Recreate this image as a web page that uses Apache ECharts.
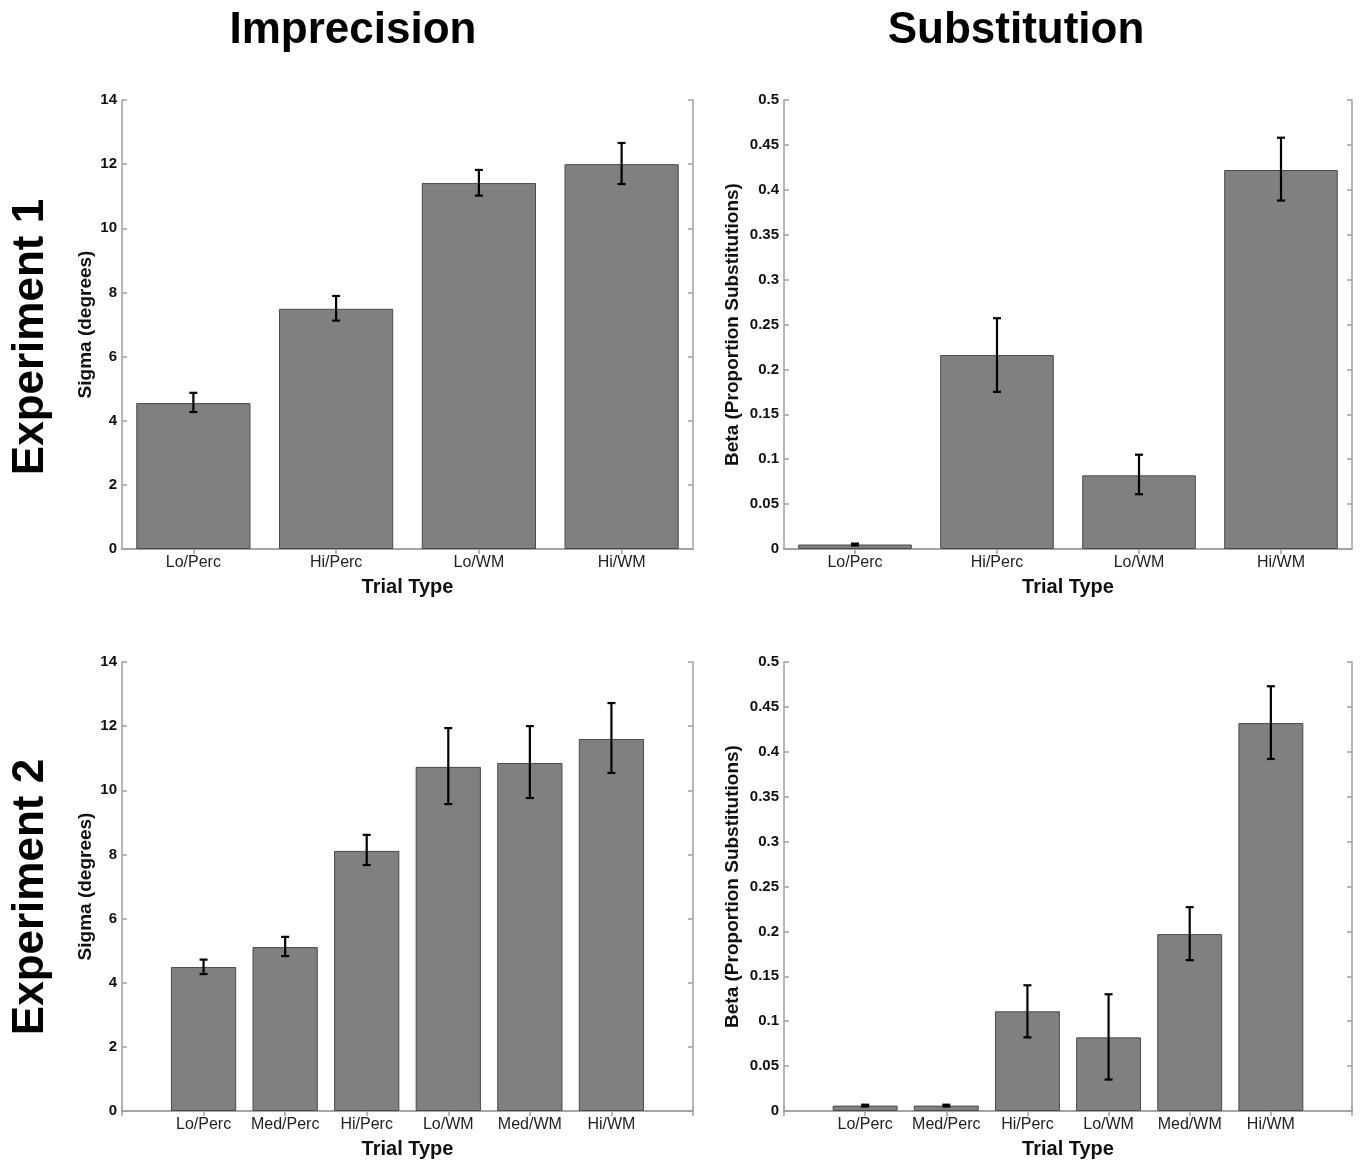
<!DOCTYPE html>
<html><head><meta charset="utf-8">
<script src="https://cdn.jsdelivr.net/npm/echarts@6/dist/echarts.min.js"></script>
<style>html,body{margin:0;padding:0;background:#fff}#c{width:1362px;height:1165px}</style>
</head><body><div id="c"></div>
<script>
// ---------- data ----------
const exp1Categories = ['Lo/Perc', 'Hi/Perc', 'Lo/WM', 'Hi/WM'];
const exp2Categories = ['Lo/Perc', 'Med/Perc', 'Hi/Perc', 'Lo/WM', 'Med/WM', 'Hi/WM'];

const exp1Sigma     = [4.55, 7.49, 11.41, 12.0];
const exp1SigmaLow  = [4.27, 7.12, 11.02, 11.38];
const exp1SigmaHigh = [4.87, 7.89, 11.82, 12.66];

const exp1Beta      = [0.005, 0.216, 0.082, 0.422];
const exp1BetaLow   = [0.004, 0.175, 0.061, 0.388];
const exp1BetaHigh  = [0.006, 0.257, 0.105, 0.458];

const exp2Sigma     = [4.49, 5.11, 8.11, 10.73, 10.85, 11.60];
const exp2SigmaLow  = [4.27, 4.83, 7.67, 9.57, 9.76, 10.54];
const exp2SigmaHigh = [4.72, 5.43, 8.61, 11.94, 12.00, 12.72];

const exp2Beta      = [0.006, 0.006, 0.111, 0.082, 0.197, 0.432];
const exp2BetaLow   = [0.005, 0.005, 0.082, 0.035, 0.168, 0.392];
const exp2BetaHigh  = [0.007, 0.007, 0.140, 0.130, 0.227, 0.473];

const sigmaTicks = {min: 0, max: 14, interval: 2};
const betaTicks  = {min: 0, max: 0.5, interval: 0.05};

// ---------- chart ----------
const FONT = "'Liberation Sans', Arial, Helvetica, sans-serif";
const AXIS_COLOR = '#a0a0a0';
const chart = echarts.init(document.getElementById('c'), null, {renderer: 'canvas'});

const grids = [
  {left: 122, top: 100, width: 571, height: 449},
  {left: 784, top: 100, width: 568, height: 449},
  {left: 122, top: 662, width: 571, height: 449},
  {left: 784, top: 662, width: 568, height: 449}
];

const panels = [
  {cats: exp1Categories, vals: exp1Sigma, lo: exp1SigmaLow, hi: exp1SigmaHigh, ticks: sigmaTicks, name: 'Sigma (degrees)', nameGap: 27, padded: false},
  {cats: exp1Categories, vals: exp1Beta, lo: exp1BetaLow, hi: exp1BetaHigh, ticks: betaTicks, name: 'Beta (Proportion Substitutions)', nameGap: 42, padded: false},
  {cats: exp2Categories, vals: exp2Sigma, lo: exp2SigmaLow, hi: exp2SigmaHigh, ticks: sigmaTicks, name: 'Sigma (degrees)', nameGap: 27, padded: true},
  {cats: exp2Categories, vals: exp2Beta, lo: exp2BetaLow, hi: exp2BetaHigh, ticks: betaTicks, name: 'Beta (Proportion Substitutions)', nameGap: 42, padded: true}
];

function errRender(params, api) {
  const x = api.value(0), lo = api.value(1), hi = api.value(2);
  const pHi = api.coord([x, hi]);
  const pLo = api.coord([x, lo]);
  const w = 4;
  const st = {stroke: '#000', lineWidth: 2.2};
  return {type: 'group', children: [
    {type: 'line', shape: {x1: pHi[0], y1: pHi[1], x2: pLo[0], y2: pLo[1]}, style: st},
    {type: 'line', shape: {x1: pHi[0] - w, y1: pHi[1], x2: pHi[0] + w, y2: pHi[1]}, style: st},
    {type: 'line', shape: {x1: pLo[0] - w, y1: pLo[1], x2: pLo[0] + w, y2: pLo[1]}, style: st}
  ]};
}

const xAxis = [], yAxis = [], series = [];
panels.forEach((p, g) => {
  const cats = p.padded ? [''].concat(p.cats, ['']) : p.cats.slice();
  const offset = p.padded ? 1 : 0;
  const baseX = {
    type: 'category', gridIndex: g, data: cats, boundaryGap: !p.padded,
    axisLine: {show: true, lineStyle: {color: AXIS_COLOR, width: 1.5}},
    axisTick: {show: true, inside: true, length: 5, alignWithLabel: true, lineStyle: {color: AXIS_COLOR, width: 1.5}},
    splitLine: {show: false}
  };
  xAxis.push(Object.assign({}, baseX, {
    position: 'bottom',
    axisLabel: {show: true, color: '#222', fontFamily: FONT, fontSize: 16, margin: 6, interval: 0},
    name: 'Trial Type', nameLocation: 'middle', nameGap: 28,
    nameTextStyle: {color: '#111', fontFamily: FONT, fontSize: 20, fontWeight: 'bold'}
  }));
  xAxis.push(Object.assign({}, baseX, {position: 'top', axisLabel: {show: false}}));
  const baseY = {
    type: 'value', gridIndex: g, min: p.ticks.min, max: p.ticks.max, interval: p.ticks.interval,
    axisLine: {show: true, lineStyle: {color: AXIS_COLOR, width: 1.5}},
    axisTick: {show: true, inside: true, length: 5, lineStyle: {color: AXIS_COLOR, width: 1.5}},
    splitLine: {show: false}
  };
  yAxis.push(Object.assign({}, baseY, {
    position: 'left',
    axisLabel: {show: true, color: '#111', fontFamily: FONT, fontSize: 15, fontWeight: 'bold', margin: 5},
    name: p.name, nameLocation: 'middle', nameGap: p.nameGap, nameRotate: 90,
    nameTextStyle: {color: '#111', fontFamily: FONT, fontSize: 19, fontWeight: 'bold'}
  }));
  yAxis.push(Object.assign({}, baseY, {position: 'right', axisLabel: {show: false}}));

  const barData = p.padded ? ['-'].concat(p.vals, ['-']) : p.vals.slice();
  series.push({
    type: 'bar', xAxisIndex: 2 * g, yAxisIndex: 2 * g, data: barData,
    barCategoryGap: '20%', silent: true,
    itemStyle: {color: '#808080', borderColor: '#4a4a4a', borderWidth: 1}
  });
  series.push({
    type: 'custom', xAxisIndex: 2 * g, yAxisIndex: 2 * g, renderItem: errRender,
    encode: {x: 0, y: [1, 2]}, z: 10, silent: true,
    data: p.vals.map((v, i) => [i + offset, p.lo[i], p.hi[i]])
  });
});

const titleStyle = {fill: '#000', font: "bold 44px " + FONT, textAlign: 'center', textVerticalAlign: 'middle'};
chart.setOption({
  animation: false,
  backgroundColor: '#fff',
  grid: grids.map(g => Object.assign({containLabel: false}, g)),
  xAxis: xAxis,
  yAxis: yAxis,
  series: series,
  graphic: [
    {type: 'text', x: 353, y: 31, style: Object.assign({text: 'Imprecision'}, titleStyle)},
    {type: 'text', x: 1016, y: 31, style: Object.assign({text: 'Substitution'}, titleStyle)},
    {type: 'text', x: 31, y: 337, rotation: Math.PI / 2, style: Object.assign({text: 'Experiment 1'}, titleStyle)},
    {type: 'text', x: 31, y: 897, rotation: Math.PI / 2, style: Object.assign({text: 'Experiment 2'}, titleStyle)}
  ]
});
</script></body></html>
